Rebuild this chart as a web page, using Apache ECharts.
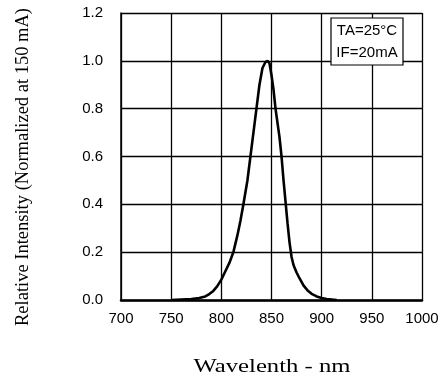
<!DOCTYPE html>
<html>
<head>
<meta charset="utf-8">
<script src="https://cdn.jsdelivr.net/npm/echarts@6/dist/echarts.min.js"></script>
<style>
  html, body { margin: 0; padding: 0; background: #fff; }
  #chart { width: 443px; height: 379px; }
</style>
</head>
<body>
<div id="chart"></div>
<script>
// spectrum: wavelength (nm) and relative intensity
const wavelengths = [750, 760, 770, 778, 784, 788, 792, 796, 800, 804, 808, 812, 816, 819, 822, 826, 829, 832, 835, 838, 841, 844, 846, 848, 850, 852, 854, 856, 858, 860, 862, 864, 866, 868, 870, 872, 875, 878, 882, 886, 890, 895, 900, 905, 915];
const intensity = [0, 0.002, 0.004, 0.008, 0.015, 0.025, 0.038, 0.058, 0.085, 0.12, 0.155, 0.2, 0.27, 0.33, 0.4, 0.5, 0.6, 0.7, 0.8, 0.9, 0.97, 0.995, 1.0, 0.99, 0.94, 0.88, 0.8, 0.74, 0.68, 0.6, 0.5, 0.41, 0.32, 0.24, 0.18, 0.145, 0.115, 0.09, 0.06, 0.04, 0.026, 0.015, 0.008, 0.004, 0];
const conditions = ['TA=25°C', 'IF=20mA'];
const xName = 'Wavelenth - nm';
const yName = 'Relative Intensity (Normalized at 150 mA)';

const points = wavelengths.map((w, i) => [w, intensity[i]]);

const chart = echarts.init(document.getElementById('chart'));

const gridLine = { show: true, lineStyle: { color: '#000', width: 1.3 } };

chart.setOption({
  animation: false,
  grid: { left: 121, right: 21, top: 13, bottom: 79 },
  xAxis: {
    type: 'value',
    min: 700, max: 1000, interval: 50,
    axisLine: { show: true, lineStyle: { color: '#000', width: 2.5 } },
    axisTick: { show: false },
    splitLine: gridLine,
    axisLabel: {
      color: '#000', fontFamily: 'Liberation Sans', fontSize: 15, margin: 11,
      formatter: v => String(v)
    }
  },
  yAxis: {
    type: 'value',
    min: 0, max: 1.2, interval: 0.2,
    axisLine: { show: true, lineStyle: { color: '#000', width: 1.5 } },
    axisTick: { show: false },
    splitLine: gridLine,
    axisLabel: {
      color: '#000', fontFamily: 'Liberation Sans', fontSize: 15, margin: 18,
      formatter: v => v.toFixed(1)
    }
  },
  series: [{
    type: 'line',
    data: points,
    showSymbol: false,
    lineStyle: { color: '#000', width: 2.6 }
  }],
  graphic: [
    {
      type: 'rect',
      shape: { x: 331, y: 18, width: 72, height: 47 },
      style: { fill: '#fff', stroke: '#000', lineWidth: 1.2 },
      z: 100
    },
    {
      type: 'text', x: 367, y: 31, z: 101,
      style: { text: conditions[0], fill: '#000', font: '15px "Liberation Sans"', align: 'center', verticalAlign: 'middle' }
    },
    {
      type: 'text', x: 367, y: 53, z: 101,
      style: { text: conditions[1], fill: '#000', font: '15px "Liberation Sans"', align: 'center', verticalAlign: 'middle' }
    },
    {
      type: 'text', x: 272, y: 367, scaleX: 1.3,
      style: { text: xName, fill: '#000', font: '19px "Liberation Serif"', align: 'center', verticalAlign: 'middle' }
    },
    {
      type: 'text', x: 23, y: 167, rotation: Math.PI / 2,
      style: { text: yName, fill: '#000', font: '18.5px "Liberation Serif"', align: 'center', verticalAlign: 'middle' }
    }
  ]
});
</script>
</body>
</html>
